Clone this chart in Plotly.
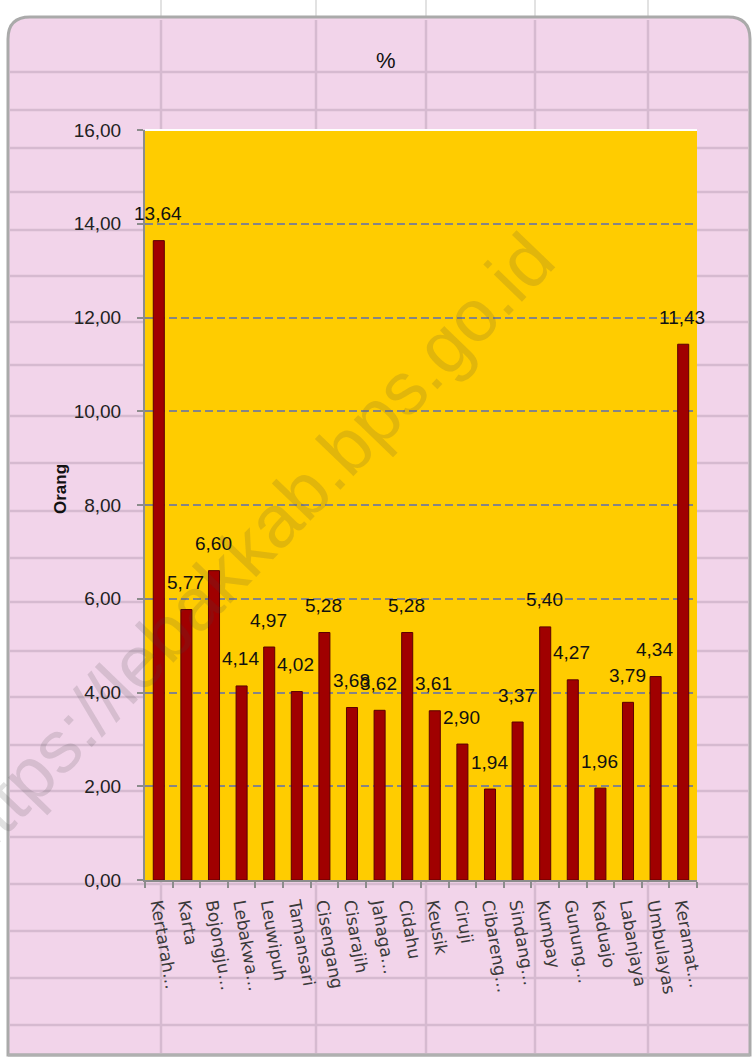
import plotly.graph_objects as go

# ---------------- data ----------------
categories = ["Kertarah…", "Karta", "Bojongju…", "Lebakwa…", "Leuwipuh", "Tamansari",
              "Cisengang", "Cisarajih", "Jahaga…", "Cidahu", "Keusik", "Ciruji",
              "Cibareng…", "Sindang…", "Kumpay", "Gunung…", "Kaduajo", "Labanjaya",
              "Umbulayas", "Keramat…"]
values = [13.64, 5.77, 6.60, 4.14, 4.97, 4.02, 5.28, 3.68, 3.62, 5.28,
          3.61, 2.90, 1.94, 3.37, 5.40, 4.27, 1.96, 3.79, 4.34, 11.43]
value_labels = [f"{v:.2f}".replace(".", ",") for v in values]
y_tick_values = [0, 2, 4, 6, 8, 10, 12, 14, 16]
y_tick_labels = [f"{v:.2f}".replace(".", ",") for v in y_tick_values]
title_text = "%"
y_title = "Orang"
watermark = "https://lebakkab.bps.go.id"

# ---------------- geometry helpers (pixels -> paper) ----------------
W, H = 752, 1059
PL, PR, PT, PB = 145, 697, 130, 880
pw, ph = PR - PL, PB - PT


def px(x):
    return (x - PL) / pw


def py(y):
    return (PB - y) / ph


PINK = "#F2D4EA"
CELL = "#D6BAD0"
GOLD = "#FFCC00"

shapes = []
# light grid at very top (spreadsheet behind chart)
for gx in [161, 316, 426, 535, 648]:
    shapes.append(dict(type="line", xref="paper", yref="paper", layer="below",
                       x0=px(gx), x1=px(gx), y0=py(0), y1=py(17),
                       line=dict(color="#E2E2E2", width=2)))

# rounded pink chart frame
x0, x1, y0, y1 = 8, 750, 17, 1055
r = 22
path = (f"M {px(x0 + r)},{py(y0)} L {px(x1 - r)},{py(y0)} "
        f"Q {px(x1)},{py(y0)} {px(x1)},{py(y0 + r)} "
        f"L {px(x1)},{py(y1)} L {px(x0)},{py(y1)} "
        f"L {px(x0)},{py(y0 + r)} Q {px(x0)},{py(y0)} {px(x0 + r)},{py(y0)} Z")
shapes.append(dict(type="path", xref="paper", yref="paper", layer="below",
                   path=path, fillcolor=PINK, line=dict(color="#AAAAAA", width=3)))

# spreadsheet cell lines visible through the chart
for gx in [161, 316, 426, 535, 648]:
    shapes.append(dict(type="line", xref="paper", yref="paper", layer="below",
                       x0=px(gx), x1=px(gx), y0=py(20), y1=py(1053),
                       line=dict(color=CELL, width=2.5)))
for gy in [72, 110, 148, 192, 230, 276, 322, 365, 416, 463, 511, 558, 602, 651,
           697, 745, 791, 837, 884, 931, 978, 1025]:
    shapes.append(dict(type="line", xref="paper", yref="paper", layer="below",
                       x0=px(10), x1=px(748), y0=py(gy), y1=py(gy),
                       line=dict(color=CELL, width=2.5)))
# bottom grey edge
shapes.append(dict(type="line", xref="paper", yref="paper", layer="below",
                   x0=px(8), x1=px(750), y0=py(1055), y1=py(1055),
                   line=dict(color="#B0B0B0", width=3)))
# gold plot area
shapes.append(dict(type="rect", xref="paper", yref="paper", layer="below",
                   x0=0, x1=1, y0=0, y1=1, fillcolor=GOLD, line=dict(width=0)))
# white line at top of plot area
shapes.append(dict(type="line", xref="paper", yref="paper", layer="above",
                   x0=0, x1=1, y0=1, y1=1, line=dict(color="white", width=2)))

fig = go.Figure()
fig.add_trace(go.Bar(
    x=categories, y=values,
    marker=dict(color="#A00000", line=dict(color="#5C0000", width=1)),
    hoverinfo="skip",
))

annotations = []
for c, v, t in zip(categories, values, value_labels):
    annotations.append(dict(x=c, y=v, xref="x", yref="y", text=t, showarrow=False,
                            yshift=27, xshift=-1, xanchor="center", yanchor="middle",
                            font=dict(family="Liberation Sans, Arial", size=19, color="#111111")))

annotations.append(dict(x=px(60), y=py(489), xref="paper", yref="paper", text=f"<b>{y_title}</b>",
                        showarrow=False, textangle=-90, xanchor="center", yanchor="middle",
                        font=dict(family="Liberation Sans, Arial", size=17, color="#111111")))
annotations.append(dict(x=px(386), y=py(60), xref="paper", yref="paper", text=title_text,
                        showarrow=False, xanchor="center", yanchor="middle",
                        font=dict(family="Liberation Sans, Arial", size=22, color="#111111")))
annotations.append(dict(x=px(248), y=py(548), xref="paper", yref="paper", text=watermark,
                        showarrow=False, textangle=-46, xanchor="center", yanchor="middle",
                        font=dict(family="Liberation Sans, Arial", size=74, color="rgba(70,70,70,0.16)")))

fig.update_layout(
    width=W, height=H,
    margin=dict(l=PL, r=W - PR, t=PT, b=H - PB, pad=0),
    paper_bgcolor="white",
    plot_bgcolor=GOLD,
    showlegend=False,
    bargap=0.6,
    shapes=shapes,
    annotations=annotations,
    font=dict(family="Liberation Sans, Arial", color="#222222"),
)
fig.update_yaxes(
    range=[0, 16], tickvals=y_tick_values, ticktext=y_tick_labels,
    showgrid=True, gridcolor="#858585", gridwidth=2, griddash="8px,4px",
    zeroline=False, showline=True, linecolor="#8C8C8C", linewidth=2,
    ticks="outside", ticklen=6, tickcolor="#8C8C8C", tickwidth=2,
    ticklabelstandoff=12,
    tickfont=dict(family="Liberation Sans, Arial", size=19, color="#222222"),
)
fig.update_xaxes(
    type="category", range=[-0.5, len(categories) - 0.5],
    tickangle=80, tickson="boundaries",
    showgrid=False, showline=True, linecolor="#8C8C8C", linewidth=2,
    ticks="outside", ticklen=6, tickcolor="#8C8C8C", tickwidth=2,
    ticklabelstandoff=6,
    tickfont=dict(family="DejaVu Sans", size=17, color="#3A3A3A"),
)

fig.write_html("out.html", config={"displayModeBar": False},
               post_script="document.body.style.margin='0';document.body.style.overflow='hidden';")
